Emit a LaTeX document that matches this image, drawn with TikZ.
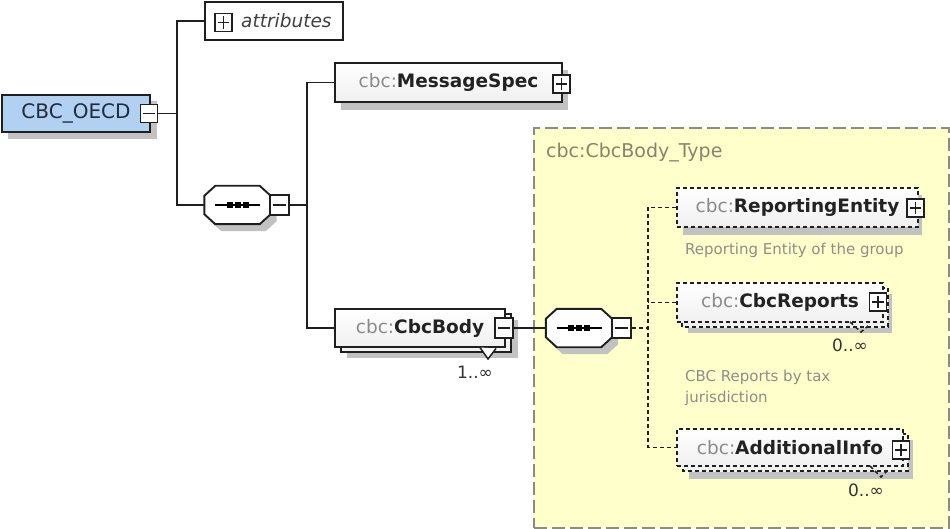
\documentclass[tikz,border=0pt]{standalone}
\usepackage{fontspec}
\setmainfont{DejaVu Sans}
\usetikzlibrary{calc}
\definecolor{rootblue}{HTML}{B2D0F2}
\definecolor{shadowgray}{HTML}{C2C2C2}
\definecolor{typeyellow}{HTML}{FFFFCC}
\definecolor{typeborder}{HTML}{8C8C80}
\definecolor{prefixgray}{HTML}{8A8A8A}
\definecolor{namedark}{HTML}{222222}
\definecolor{typelabel}{HTML}{85856C}
\definecolor{descgray}{HTML}{8E8E86}
\definecolor{rootink}{HTML}{1E2C3C}
\newcommand\xnamefont{\fontsize{18.5}{21}\selectfont}
\newcommand\xdescfont{\fontsize{15}{21}\selectfont}
\newcommand\xoctpath[3]{($(#1.north west)+(11+#2,#3)$) -- ($(#1.north east)+(-11+#2,#3)$) -- ($(#1.north east)+(#2,10+#3)$) -- ($(#1.south east)+(#2,-10+#3)$) -- ($(#1.south east)+(-11+#2,#3)$) -- ($(#1.south west)+(11+#2,#3)$) -- ($(#1.south west)+(#2,-10+#3)$) -- ($(#1.north west)+(#2,10+#3)$) -- cycle}
\newcommand\xminusbox[3]{%
  \node[pmbox] (#1) at (#2,#3) {};
  \draw[pmline] ($(#1.west)+(3.5,0)$) -- ($(#1.east)+(-3.5,0)$);}
\newcommand\xplusbox[3]{%
  \node[pmbox] (#1) at (#2,#3) {};
  \draw[pmline] ($(#1.west)+(3.5,0)$) -- ($(#1.east)+(-3.5,0)$);
  \draw[pmline] ($(#1.north)+(0,3.5)$) -- ($(#1.south)+(0,-3.5)$);}
\newcommand\xseqinner[1]{%
  \draw[line width=1.6pt] ($(#1.center)+(-22.5,0)$) -- ($(#1.center)+(22.5,0)$);
  \fill ($(#1.center)+(-11,-3)$) rectangle ($(#1.center)+(-5,3)$);
  \fill ($(#1.center)+(-3,-3)$) rectangle ($(#1.center)+(3,3)$);
  \fill ($(#1.center)+(5,-3)$) rectangle ($(#1.center)+(11,3)$);}
\begin{document}
\begin{tikzpicture}[x=1pt,y=-1pt,
  conn/.style={line width=1.9pt, draw=black!88},
  dconn/.style={conn, dash pattern=on 4pt off 3pt},
  shadowfill/.style={fill=shadowgray, draw=none},
  elbox/.style={draw=black!88, line width=1.9pt, top color=white, bottom color=black!6, inner sep=0pt, font=\xnamefont, text=namedark},
  optbox/.style={elbox, dash pattern=on 4pt off 3pt},
  backframe/.style={draw=black!88, line width=1.9pt, top color=white, bottom color=black!6},
  optback/.style={backframe, dash pattern=on 4pt off 3pt},
  pmbox/.style={draw=black!88, line width=1.6pt, fill=white, inner sep=0pt, minimum width=17pt, minimum height=18pt},
  pmline/.style={line width=1.6pt, draw=black!88},
  octnode/.style={inner sep=0pt, minimum width=66pt, minimum height=38pt},
  octdraw/.style={draw=black!88, line width=1.9pt, fill=white},
  typeregion/.style={draw=typeborder, line width=1.6pt, fill=typeyellow, dash pattern=on 13pt off 5pt, inner sep=0pt},
  multlabel/.style={font=\fontsize{17}{20}\selectfont, text=black!80, inner sep=0pt},
  desc/.style={font=\xdescfont, text=descgray, inner sep=0pt, align=left},
]
\fill[white] (0,0) rectangle (950,529);
\useasboundingbox (0,0) rectangle (950,529);

% type region
\node[typeregion, minimum width=415pt, minimum height=400pt, anchor=north west] (typebox) at (533,127) {};
\node[anchor=west, font=\fontsize{19}{21}\selectfont, text=typelabel, inner sep=0pt] (typelbl) at (546,153) {cbc:CbcBody\_Type};

% shadows
\fill[shadowfill] (8,101) rectangle (157,139);
\fill[shadowfill] (341,70) rectangle (568,110);
\fill[shadowfill] (347,320) rectangle (518,358);
\fill[shadowfill] (683,195) rectangle (922,235);
\fill[shadowfill] (688,294) rectangle (892,333);
\fill[shadowfill] (689,440) rectangle (913,479);

% root
\node[draw=black!88, line width=1.9pt, fill=rootblue, minimum width=148pt, minimum height=37pt, inner sep=0pt, font=\fontsize{20}{22}\selectfont, text=rootink] (root) at (76,113.5) {CBC\_OECD};
\xminusbox{rootminus}{149}{113.5}

% attributes
\node[draw=black!88, line width=1.9pt, fill=white, minimum width=138pt, minimum height=38pt, inner sep=0pt] (attr) at (274,21) {};
\node[anchor=west, font=\fontsize{18.5}{21}\selectfont\itshape, text=black!75, inner sep=0pt] (attrtext) at (241,21) {attributes};
\xplusbox{attrplus}{223.5}{22.5}

% sequence A
\node[octnode] (seqA) at (237.5,205) {};
\fill[shadowgray] \xoctpath{seqA}{6}{7};
\draw[octdraw] \xoctpath{seqA}{0}{0};
\xseqinner{seqA}
\node[pmbox, minimum width=19pt, minimum height=20pt] (seqAminus) at (279.5,205) {};
\draw[pmline] ($(seqAminus.west)+(3.5,0)$) -- ($(seqAminus.east)+(-3.5,0)$);

% MessageSpec
\node[elbox, minimum width=227pt, minimum height=39pt] (msg) at (448.5,82.5) {{\color{prefixgray}cbc:}\textbf{MessageSpec}};
\xplusbox{msgplus}{561.5}{84}

% CbcBody
\draw[backframe] (341,314) rectangle (511,352);
\node[elbox, minimum width=170pt, minimum height=38pt] (body) at (420,328) {{\color{prefixgray}cbc:}\textbf{CbcBody}};
\filldraw[fill=white, draw=black!88, line width=1.5pt] (480,347.5) -- (488,359) -- (496,348.5);
\node[pmbox, minimum width=18pt, minimum height=20pt] (bodyminus) at (504,328) {};
\draw[pmline] ($(bodyminus.west)+(3.5,0)$) -- ($(bodyminus.east)+(-3.5,0)$);
\node[multlabel] (bodymult) at (475,372) {1..∞};

% sequence B
\node[octnode] (seqB) at (579,328) {};
\fill[shadowgray] \xoctpath{seqB}{6}{7};
\draw[octdraw] \xoctpath{seqB}{0}{0};
\xseqinner{seqB}
\node[pmbox, minimum width=19pt, minimum height=20pt] (seqBminus) at (621.5,328) {};
\draw[pmline] ($(seqBminus.west)+(3.5,0)$) -- ($(seqBminus.east)+(-3.5,0)$);

% ReportingEntity
\node[optbox, minimum width=241pt, minimum height=39pt] (rep) at (797.5,207.5) {{\color{prefixgray}cbc:}\textbf{ReportingEntity}};
\xplusbox{repplus}{915.5}{208}
\node[desc, anchor=west] (repdesc) at (685,250) {Reporting Entity of the group};

% CbcReports
\draw[optback] (682,288) rectangle (888,327);
\node[optbox, minimum width=206pt, minimum height=39pt] (reports) at (780,302.5) {{\color{prefixgray}cbc:}\textbf{CbcReports}};
\draw[dconn, line width=1.5pt] (850,322) -- (861,332) -- (868,326);
\xplusbox{reportsplus}{878}{302}
\node[multlabel] (reportsmult) at (850,345) {0..∞};
\node[desc, anchor=west] (reportsdesc) at (685,387.5) {CBC Reports by tax\\jurisdiction};

% AdditionalInfo
\draw[optback] (683,434) rectangle (908,471);
\node[optbox, minimum width=226pt, minimum height=37pt] (addl) at (790,447.5) {{\color{prefixgray}cbc:}\textbf{AdditionalInfo}};
\draw[dconn, line width=1.5pt] (870,466) -- (881,477) -- (889,469);
\xplusbox{addlplus}{901}{450}
\node[multlabel] (addlmult) at (866,490) {0..∞};

% connectors
\coordinate (jA) at (177,113.5);
\draw[conn] (rootminus.east) -- (jA);
\draw[conn] (attr.west) -| (jA) |- (seqA.west);
\coordinate (jB) at (307,205);
\draw[conn] (seqAminus.east) -- (jB);
\draw[conn] (msg.west) -| (jB) |- (body.west);
\draw[conn] (bodyminus.east) -- (seqB.west);
\coordinate (jC) at (648,328);
\draw[dconn] (seqBminus.east) -- (jC);
\draw[dconn] (rep.west) -| (jC) |- (addl.west);
\draw[dconn] (reports.west) -- (reports.west -| jC);
\end{tikzpicture}
\end{document}
